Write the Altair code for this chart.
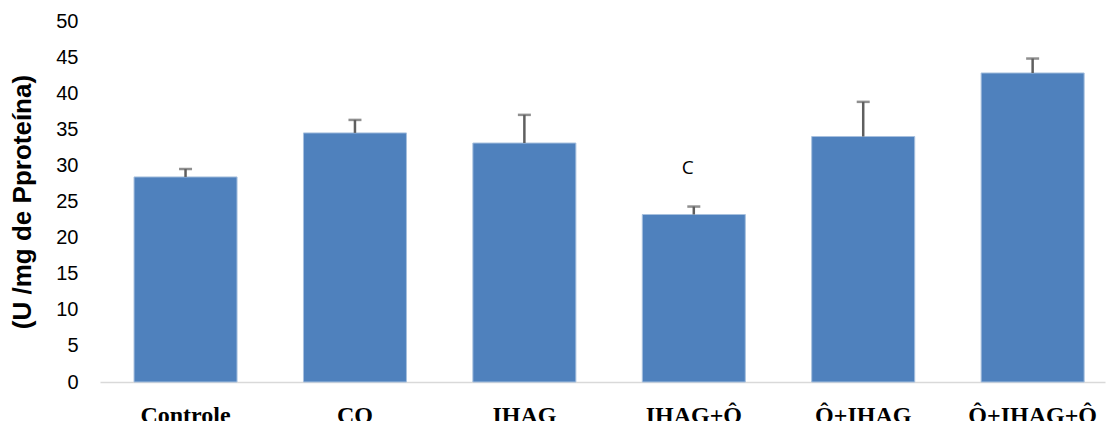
import altair as alt
import pandas as pd

# Enzyme activity per group (U/mg protein), mean and upper error bound
groups = ["Controle", "CO", "IHAG", "IHAG+Ô", "Ô+IHAG", "Ô+IHAG+Ô"]
means = [28.4, 34.5, 33.1, 23.2, 34.0, 42.8]
upper = [29.5, 36.3, 37.0, 24.3, 38.8, 44.8]
y_ticks = [0, 5, 10, 15, 20, 25, 30, 35, 40, 45, 50]

# Significance letter shown above one group
sig_group = ["IHAG+Ô"]
sig_label = ["C"]
sig_pos = [29.7]

df = pd.DataFrame({"grupo": groups, "media": means, "sup": upper})
sig = pd.DataFrame({"grupo": sig_group, "rotulo": sig_label, "pos": sig_pos})

x_axis = alt.Axis(
    labelAngle=0,
    labelFont="Liberation Serif",
    labelFontWeight="bold",
    labelFontSize=24,
    labelColor="#000000",
    labelPadding=21,
    labelOverlap=False,
    ticks=False,
    domainColor="#d9d9d9",
    domainWidth=1.5,
    grid=False,
)
x_scale = alt.Scale(paddingInner=0.392, paddingOuter=0.162, align=0.62)

y_scale = alt.Scale(domain=[0, 50], nice=False)
y_axis = alt.Axis(
    values=y_ticks,
    title="(U /mg de Pproteína)",
    titleFont="Liberation Sans",
    titleFontWeight="bold",
    titleFontSize=26,
    titleColor="#000000",
    titlePadding=20,
    labelFont="Liberation Sans",
    labelFontSize=20,
    labelColor="#000000",
    labelPadding=22,
    labelOverlap=False,
    ticks=False,
    domain=False,
    grid=False,
)


def xg():
    return alt.X("grupo:N", sort=groups, title=None, scale=x_scale, axis=x_axis)


bars = alt.Chart(df).mark_bar(
    color="#4F81BD", stroke="#A7C0DE", strokeWidth=1
).encode(
    x=xg(),
    y=alt.Y("media:Q", scale=y_scale, axis=y_axis),
)

err = alt.Chart(df).mark_rule(color="#5F5F5F", strokeWidth=2.5).encode(
    x=xg(),
    y=alt.Y("media:Q", scale=y_scale, axis=y_axis),
    y2="sup:Q",
)

caps = alt.Chart(df).mark_tick(
    color="#5F5F5F", size=13, thickness=2.5, orient="horizontal"
).encode(
    x=xg(),
    y=alt.Y("sup:Q", scale=y_scale, axis=y_axis),
)

letters = alt.Chart(sig).mark_text(
    font="Open Sans", fontSize=19, color="#000000", baseline="middle", dx=-6
).encode(
    x=xg(),
    y=alt.Y("pos:Q", scale=y_scale, axis=y_axis),
    text="rotulo:N",
)

chart = (
    alt.layer(bars, err, caps, letters)
    .properties(
        width=1005,
        height=361,
        autosize=alt.AutoSizeParams(type="none"),
        padding={"left": 100, "top": 21, "right": 9, "bottom": 39},
        view=alt.ViewBackground(stroke="transparent", strokeWidth=0),
    )
    .configure(
        background="#ffffff",
        view=alt.ViewConfig(stroke="transparent", strokeWidth=0),
    )
    .configure_axis(grid=False)
)

chart.save("out.html", embed_options={"renderer": "svg", "actions": False})
